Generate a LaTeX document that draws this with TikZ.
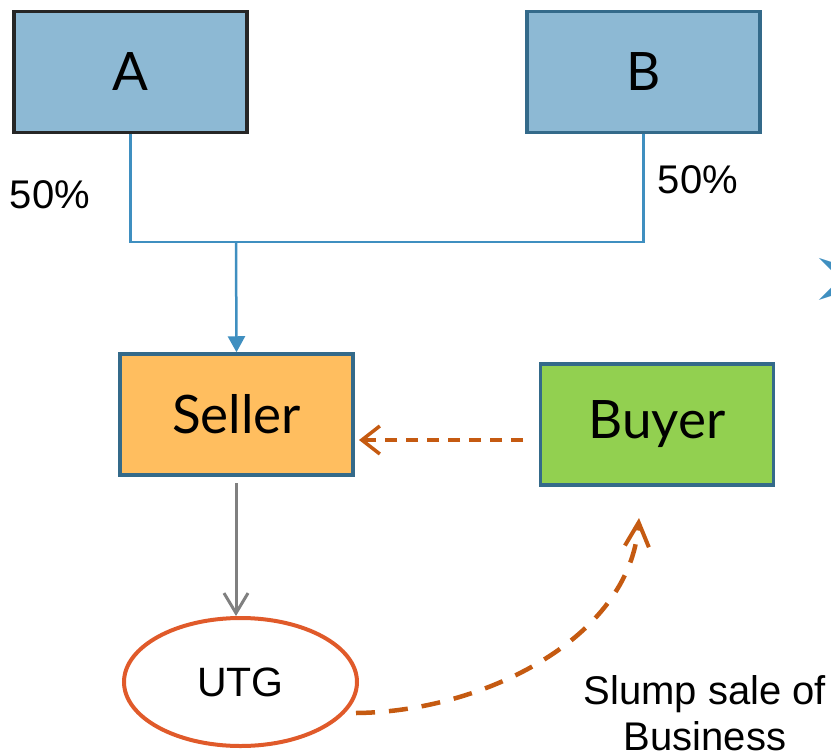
\documentclass[tikz,border=0pt]{standalone}
\usepackage{fontspec}
\setmainfont{Liberation Sans}
\newfontfamily\boxfont{Lato}
\newfontfamily\symfont{DejaVu Sans}
\usetikzlibrary{arrows.meta,shapes.geometric}
\definecolor{partyfill}{HTML}{8DB9D4}
\definecolor{sellerfill}{HTML}{FFBE5F}
\definecolor{buyerfill}{HTML}{92D050}
\definecolor{boxedge}{HTML}{346A8A}
\definecolor{linkblue}{HTML}{3F8FC0}
\definecolor{saleorange}{HTML}{C55A11}
\definecolor{utgedge}{HTML}{E05A2A}
\begin{document}
\begin{tikzpicture}[x=1pt,y=-1pt,
entity/.style={
% The shape:
rectangle,
draw=boxedge,
line width=3.5pt,
minimum width=233pt,
minimum height=121pt,
font=\boxfont\fontsize{53}{57}\selectfont
},
share/.style={
font=\fontsize{40}{46}\selectfont
},
link/.style={draw=linkblue,line width=2.5pt}
]
\useasboundingbox (0,0) rectangle (831,753);
% Shareholders
\node (a) [entity,fill=partyfill,draw=black!85] at (130.5,72) {A};
\node (b) [entity,fill=partyfill] at (643.5,72) {B};
% Companies
\node (seller) [entity,fill=sellerfill] at (236.5,414.5) {Seller};
\node (buyer) [entity,fill=buyerfill] at (657,424.5) {Buyer};
\node (utg) [ellipse,draw=utgedge,line width=4pt,minimum width=233pt,minimum height=128pt,
  font=\fontsize{41}{45}\selectfont] at (240.5,682) {UTG};
\coordinate (join) at (236,242);
\coordinate (bw) at (523,440);
\coordinate (se) at (359,440);
\coordinate (ue) at (356,713);
\coordinate (sd) at (236,483);
% Holdings
\draw [link] (a.south) |- (join) -| (b.south);
\draw [link,-{Triangle[length=16pt,width=17pt]}] (join) -- (seller.north);
\node (pa) [share] at (50,195) {50\%};
\node (pb) [share] at (698,180) {50\%};
% Slump sale
\draw [saleorange,line width=3.5pt,dash pattern=on 12pt off 9pt,
  -{Straight Barb[length=18pt,width=28pt,line width=3.5pt]}] (bw) -- (se);
\draw [gray,line width=3pt,-{Straight Barb[length=20pt,width=24pt,line width=3pt]}]
  (sd) -- (sd |- utg.north);
\draw [saleorange,line width=4.5pt,dash pattern=on 19pt off 14pt,
  -{Straight Barb[length=24pt,width=24pt,line width=4pt]}]
  (ue) .. controls (480,712) and (630,640) .. (639,518);
\node (slump) [share,align=center,inner sep=0pt] at (705,713) {Slump sale of\\Business};
% Bullet fragment at right edge
\node (bullet) [anchor=west,inner sep=0pt,text=linkblue,font=\symfont\fontsize{96}{100}\selectfont] at (808,284) {➢};
\end{tikzpicture}
\end{document}
